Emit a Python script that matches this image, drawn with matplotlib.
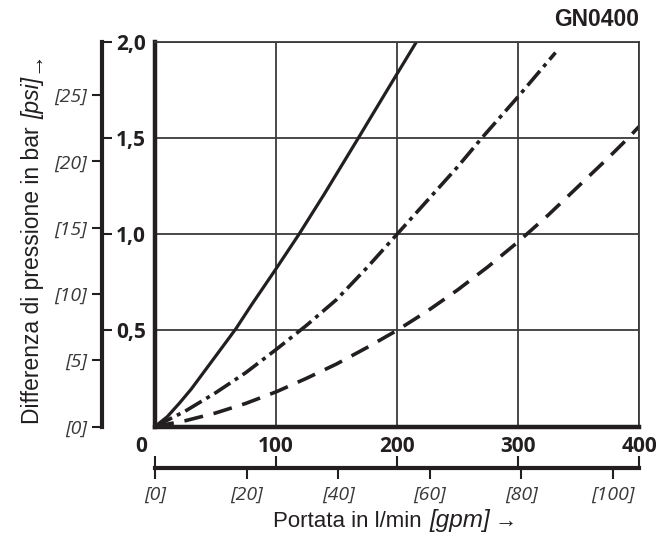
import numpy as np
import matplotlib
matplotlib.use('Agg')
import matplotlib.pyplot as plt
import matplotlib.transforms as mtransforms

plt.rcParams['font.family'] = ['Liberation Sans', 'DejaVu Sans']

# flow in l/min, pressure difference in bar
q_solid = [0, 10, 20, 30, 40, 50, 60, 67, 80, 100, 119, 140, 168, 190, 216]
p_solid = [0, 0.05, 0.12, 0.195, 0.28, 0.365, 0.45, 0.51, 0.635, 0.82, 1.0,
           1.21, 1.5, 1.73, 2.0]
q_dashdot = [0, 25, 50, 75, 100, 125, 150, 175, 200, 225, 250, 270, 300, 331]
p_dashdot = [0, 0.08, 0.175, 0.28, 0.40, 0.525, 0.66, 0.825, 1.0, 1.175, 1.35,
             1.5, 1.715, 1.945]
q_dash = [0, 25, 50, 75, 100, 125, 150, 175, 200, 225, 250, 275, 300, 325, 350,
          375, 391, 400]
p_dash = [0, 0.03, 0.07, 0.12, 0.18, 0.25, 0.325, 0.41, 0.5, 0.6, 0.71, 0.83,
          0.96, 1.1, 1.25, 1.4, 1.5, 1.56]

bar_ticks = [0.5, 1.0, 1.5, 2.0]
psi_ticks = [0, 5, 10, 15, 20, 25]
lpm_ticks = [0, 100, 200, 300, 400]
gpm_ticks = [0, 20, 40, 60, 80, 100]
PSI_PER_BAR = 14.5038
LPM_PER_GPM = 3.78541

ink = '#231f20'
grey = '#3a3a3a'

fig = plt.figure(figsize=(6.66, 5.43), dpi=100)
W, H = 666, 543
x0, x1, y0, y1 = 155, 639, 426.5, 42

ax = fig.add_axes([x0 / W, 1 - y0 / H, (x1 - x0) / W, (y0 - y1) / H])
ax.plot(q_solid, p_solid, color=ink, lw=2.3)
ax.plot(q_dashdot, p_dashdot, color=ink, lw=2.6, dashes=(5.3, 1.5, 1.1, 1.5))
ax.plot(q_dash, p_dash, color=ink, lw=2.6, dashes=(5.3, 3.0))
ax.set_xlim(0, 400)
ax.set_ylim(0, 2)
ax.set_xticks(lpm_ticks)
ax.set_xticklabels([str(t) for t in lpm_ticks], family='Open Sans', weight='bold',
                   fontsize=15, color=ink)
ax.set_yticks(bar_ticks)
ax.set_yticklabels([])
ax.tick_params(length=0, pad=7)
ax.tick_params(axis='y', left=False)
ax.grid(color=grey, lw=1.3)
for s in ['top', 'right']:
    ax.spines[s].set_color(grey)
    ax.spines[s].set_linewidth(1.3)
for s in ['left', 'bottom']:
    ax.spines[s].set_color(ink)
    ax.spines[s].set_linewidth(3.2)
# the "0" sits left of the corner
lab0 = ax.get_xticklabels()[0]
lab0.set_transform(lab0.get_transform() +
                   mtransforms.ScaledTranslation(-0.14, 0, fig.dpi_scale_trans))

# left scale: psi outside, bar inside
ya = fig.add_axes([102 / W, 1 - y0 / H, 0.0001, (y0 - y1) / H])
ya.set_ylim(0, 2 * PSI_PER_BAR)
ya.set_yticks(psi_ticks)
ya.set_yticklabels(['[%d]' % t for t in psi_ticks], family='Open Sans', style='italic',
                   fontsize=14, color=grey)
ya.tick_params(axis='y', direction='out', length=7, width=1.5, color=ink, pad=4)
ya.set_xticks([])
for s in ['top', 'bottom', 'right']:
    ya.spines[s].set_visible(False)
ya.spines['left'].set_linewidth(3)
ya.spines['left'].set_color(ink)
ya.patch.set_visible(False)

yb = ya.twinx()
yb.set_ylim(0, 2)
yb.set_yticks(bar_ticks)
yb.set_yticklabels([('%.1f' % t).replace('.', ',') for t in bar_ticks],
                   family='Open Sans', weight='bold', fontsize=15, color=ink)
yb.tick_params(axis='y', direction='out', length=7, width=1.5, color=ink, pad=3)
for s in ['top', 'bottom', 'right', 'left']:
    yb.spines[s].set_visible(False)

# bottom scale: l/min above, gpm below
xa = fig.add_axes([x0 / W, 1 - 468 / H, (x1 - x0) / W, 0.0001])
xa.set_xlim(0, 400 / LPM_PER_GPM)
xa.set_xticks(gpm_ticks)
xa.set_xticklabels(['[%d]' % t for t in gpm_ticks], family='Open Sans', style='italic',
                   fontsize=14, color=grey)
xa.tick_params(axis='x', direction='out', length=8, width=1.5, color=ink, pad=5)
xa.set_yticks([])
for s in ['top', 'left', 'right']:
    xa.spines[s].set_visible(False)
xa.spines['bottom'].set_linewidth(3)
xa.spines['bottom'].set_color(ink)
xa.patch.set_visible(False)

xb = xa.twiny()
xb.set_xlim(0, 400)
xb.set_xticks(lpm_ticks)
xb.set_xticklabels([])
xb.tick_params(axis='x', direction='out', length=9, width=1.5, color=ink)
for s in ['top', 'bottom', 'left', 'right']:
    xb.spines[s].set_visible(False)

# axis titles, built from pieces so the unit can be italic
fs = 16
t = fig.text(273 / W, 1 - 532 / H, 'Portata in l/min', ha='left', va='bottom',
             fontsize=fs, color=ink)
t = fig.add_artist(plt.Annotation('[gpm]', xy=(1, 0), xycoords=t, xytext=(6, 0),
                                  textcoords='offset points', ha='left', va='bottom',
                                  fontsize=17.5, style='italic', color=ink))
fig.add_artist(plt.Annotation('→', xy=(1, 0), xycoords=t, xytext=(3, 0),
                              textcoords='offset points', ha='left', va='bottom',
                              fontsize=fs, color=ink))

fs = 16.5
t = fig.text(21 / W, 1 - 424 / H, 'Differenza di pressione in bar', rotation=90,
             ha='left', va='bottom', fontsize=fs, color=ink)
t = fig.add_artist(plt.Annotation('[psi]', xy=(0, 1), xycoords=t, xytext=(0, 5),
                                  textcoords='offset points', ha='left', va='bottom',
                                  rotation=90, fontsize=fs, style='italic', color=ink))
fig.add_artist(plt.Annotation('→', xy=(0, 1), xycoords=t, xytext=(0, 3),
                              textcoords='offset points', ha='left', va='bottom',
                              rotation=90, fontsize=fs, color=ink))

fig.text(639 / W, 1 - 19 / H, 'GN0400', ha='right', va='center', fontsize=16.5,
         weight='bold', color=ink)

fig.savefig('out.png', dpi=100)
